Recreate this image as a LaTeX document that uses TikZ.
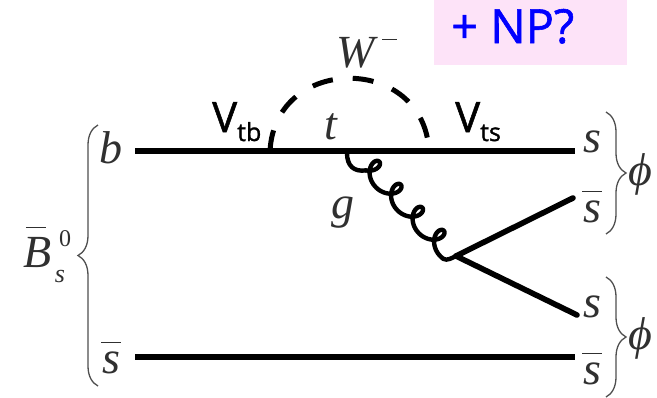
\documentclass[tikz,border=0pt]{standalone}
\usepackage{fontspec}
\setmainfont{Liberation Serif}
\newfontfamily\lblfont[FakeBold=1.2]{Open Sans}
\usetikzlibrary{decorations.pathreplacing}
\definecolor{pinkbox}{HTML}{FDE3F8}
\definecolor{inkgray}{HTML}{303030}
\newcommand{\fs}[1]{\fontsize{#1}{#1}\selectfont}
\newcommand{\barred}[3]{\rlap{\hspace{#3}\raisebox{#2}{\rule{20pt}{1.5pt}}}#1}
\tikzset{
  x=1pt,y=-1pt,
  quark/.style={draw=black,line width=6.6pt},
  leg/.style={draw=black,line width=5.6pt,line cap=round},
  wboson/.style={draw=black,line width=5pt,dash pattern=on 21pt off 20pt},
  gluon/.style={draw=black,line width=4.4pt,line join=round,line cap=round},
  bracket/.style={draw=inkgray!85,line width=1.3pt,decorate,decoration={brace,amplitude=20pt,aspect=0.5}},
  math/.style={inner sep=0pt,anchor=base,text=inkgray,font=\fs{46}\itshape},
  small/.style={inner sep=0pt,anchor=base,text=inkgray},
  vlabel/.style={inner sep=0pt,anchor=base west,text=black,font=\lblfont\fs{42}},
}
\begin{document}
\begin{tikzpicture}
\useasboundingbox (0,0) rectangle (657,397);
\fill[pinkbox] (434,0) rectangle (627,65);
\node[inner sep=0pt,anchor=base west,text=blue,font=\lblfont\fs{47}] (np) at (451,43) {+ NP?};

\coordinate (bL) at (135,151);
\coordinate (bR) at (575,151);
\coordinate (sL) at (135,357);
\coordinate (sR) at (575,357);
\coordinate (wa) at (270,151);
\coordinate (wb) at (429,151);
\coordinate (ga) at (347,153);
\coordinate (gs) at (365.7,170.4);
\coordinate (ge) at (443.5,258.9);
\coordinate (gb) at (456,256);
\coordinate (sbarTop) at (573,198);
\coordinate (sBot) at (577,315);

\path[quark] (bL) -- (bR);
\path[quark] (sL) -- (sR);
\path[wboson] (wa) .. controls (275,54) and (424,54) .. (wb);
\path[gluon] (ga) .. controls (347,166) and (354,172) .. (gs);
\path[gluon] plot[domain=-0.35:3.55,samples=200] ({372+21.5*\x+10*cos(-43-360*\x)},{168.5+23*\x+10*sin(-43-360*\x)});
\path[gluon] (ge) .. controls (447,261) and (452,258) .. (gb);
\path[leg] (gb) -- (sbarTop);
\path[leg] (gb) -- (sBot);

\node[math] (lb) at (111,163) {b};
\node[math] (lsb) at (111,373) {\barred{s}{30pt}{-1pt}};
\node[math] (ls1) at (592,152) {s};
\node[math] (ls2) at (592,222) {\barred{s}{30pt}{-1pt}};
\node[math] (ls3) at (592,317) {s};
\node[math] (ls4) at (592,384) {\barred{s}{30pt}{-1pt}};
\node[math] (lw) at (356,67) {W};
\node[small] (lminus) at (389.5,40) {\rule{15pt}{1.5pt}};
\node[math] (lt) at (331,139) {t};
\node[math] (lg) at (343,218) {g};
\node[math] (lB) at (38,267) {\barred{B}{39pt}{2pt}};
\node[small,font=\fs{26}\itshape] (ls0) at (60,282) {s};
\node[small,font=\fs{24}] (lz) at (65,246) {0};
\node[math,anchor=center] (phi1) at (640,174) {ϕ};
\node[math,anchor=center] (phi2) at (640,338) {ϕ};

\node[vlabel] (vtb) at (212,132) {V\raisebox{-9pt}{\fs{25}tb}};
\node[vlabel] (vts) at (455,132) {V\raisebox{-9pt}{\fs{25}ts}};

\coordinate (bl1) at (98,125);
\coordinate (bl2) at (98,386);
\coordinate (br1) at (606,112);
\coordinate (br2) at (606,234);
\coordinate (br3) at (606,277);
\coordinate (br4) at (606,397);
\path[bracket] (bl2) -- (bl1);
\path[bracket] (br1) -- (br2);
\path[bracket] (br3) -- (br4);
\end{tikzpicture}
\end{document}
